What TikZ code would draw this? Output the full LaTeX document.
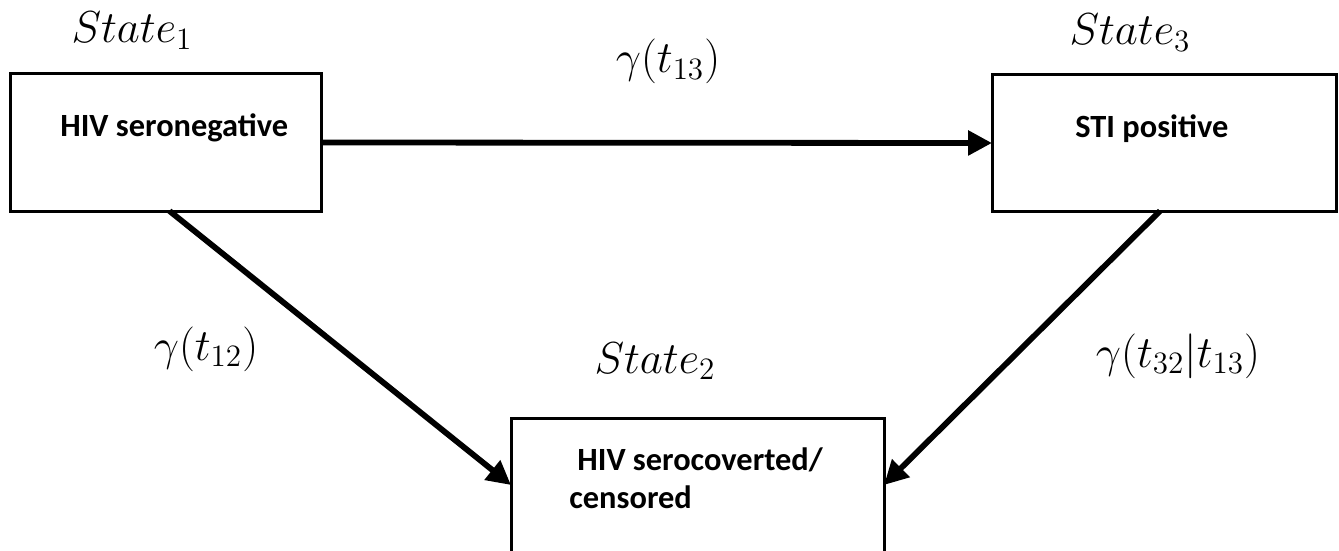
\documentclass[tikz,border=0pt]{standalone}
\usepackage{fontspec}
\setmainfont{Carlito}
\usetikzlibrary{arrows.meta}
\newcommand\mymath[1]{\scalebox{1.08}{$#1$}}
\begin{document}
\begin{tikzpicture}[x=0.5pt,y=-0.5pt,
  box/.style={draw,line width=1.5pt,inner sep=0pt,outer sep=0pt},
  lab/.style={font=\bfseries\fontsize{16.2}{19}\selectfont,anchor=base west,inner sep=0pt},
  mlab/.style={font=\fontsize{20.74}{25}\selectfont,anchor=base,inner sep=0pt},
  arr/.style={line width=2.9pt,-{Triangle[length=12pt,width=12pt]}}]
\clip (0,0) rectangle (1339,551);
\fill[white] (0,0) rectangle (1339,551);
% boxes
\node[box,minimum width=155.5pt,minimum height=68.5pt] (b1) at (165.5,142.5) {};
\node[box,minimum width=172pt,minimum height=68pt] (b3) at (1164,143) {};
\node[box,minimum width=186.5pt,minimum height=91pt] (b2) at (697.5,509) {};
% box texts
\node[lab] (t1) at (60,137) {HIV seronegative};
\node[lab] (t3) at (1075,138) {STI positive};
\node[lab] (t2a) at (577,470) {HIV serocoverted/};
\node[lab] (t2b) at (569,508) {censored};
% state labels
\node[mlab] (s1) at (132,43) {\mymath{State_1}};
\node[mlab] (s3) at (1130,45) {\mymath{State_3}};
\node[mlab] (s2) at (655,373) {\mymath{State_2}};
% rate labels
\node[mlab] (g13) at (668,73) {\mymath{\gamma(t_{13})}};
\node[mlab] (g12) at (206,360) {\mymath{\gamma(t_{12})}};
\node[mlab] (g32) at (1178,367) {\mymath{\gamma(t_{32}|t_{13})}};
% connectors
\draw[arr] (b1.east) -- (b3.west);
\draw[arr] ([xshift=2pt]b1.south) -- ([yshift=-33.5pt]b2.north west);
\draw[arr] ([xshift=-2pt]b3.south) -- ([yshift=-33.5pt]b2.north east);
\end{tikzpicture}
\end{document}
